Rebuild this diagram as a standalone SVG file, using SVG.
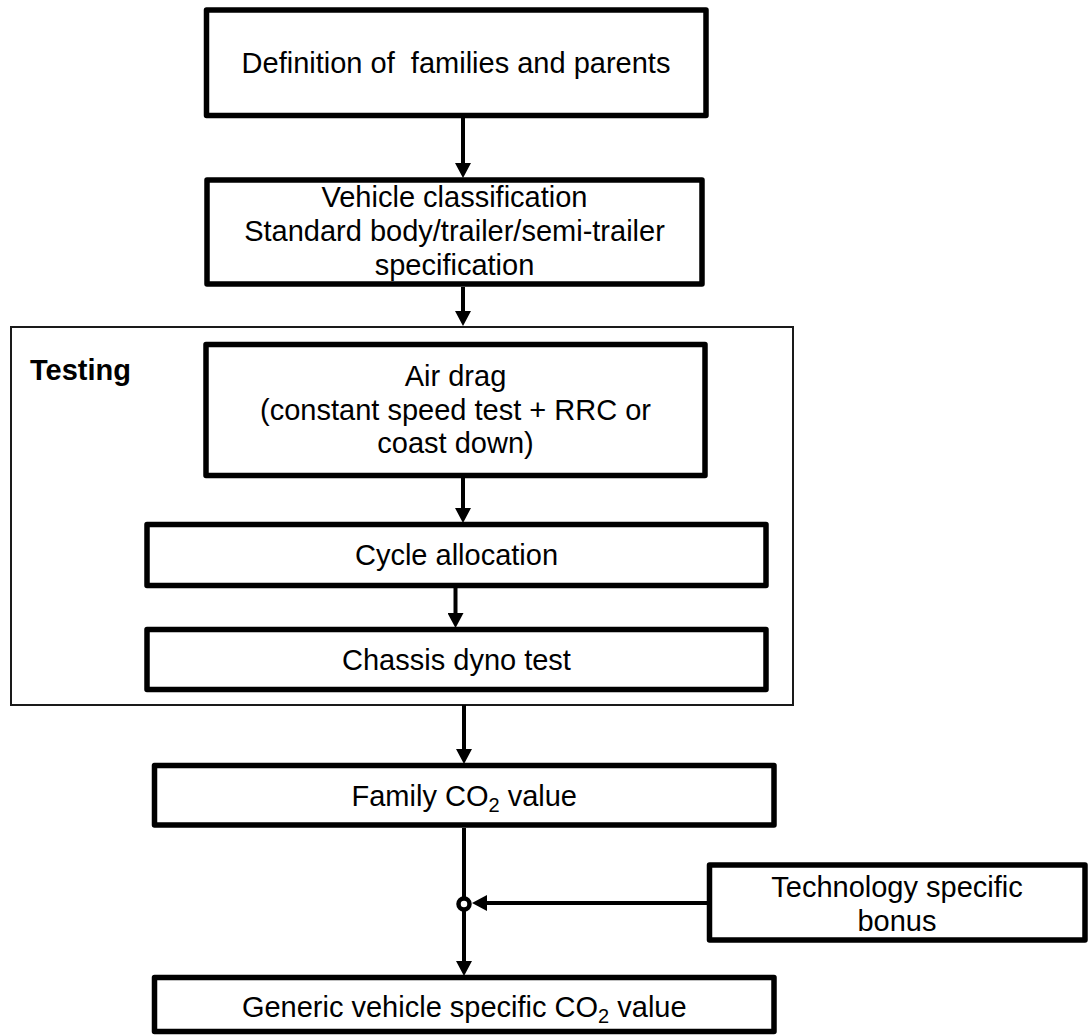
<svg xmlns="http://www.w3.org/2000/svg" width="1088" height="1035" viewBox="0 0 1088 1035">
  <style>
    .box { fill: #ffffff; stroke: #000000; stroke-width: 5.5; stroke-linejoin: round; }
    .frame { fill: none; stroke: #1a1a1a; stroke-width: 2; }
    .lbl { font-family: "Liberation Sans", Arial, sans-serif; font-size: 29px; fill: #000000; text-anchor: middle; white-space: pre; }
    .title { font-family: "Liberation Sans", Arial, sans-serif; font-size: 29px; font-weight: bold; fill: #000000; }
    .sub { font-size: 20px; }
    .wire { fill: none; stroke: #000000; stroke-width: 4; }
  </style>
  <defs>
    <marker id="arrow" markerUnits="userSpaceOnUse" markerWidth="16" markerHeight="16" refX="10" refY="8" orient="auto">
      <path d="M0,0 L15,8 L0,16 Z" fill="#000000"/>
    </marker>
  </defs>

  <!-- Testing frame -->
  <g id="testing">
    <rect class="frame" x="11" y="327" width="782" height="378"/>
    <text class="title" x="30" y="380">Testing</text>
  </g>

  <g id="definition">
    <rect class="box" x="206.5" y="10" width="499.5" height="105.5"/>
    <text class="lbl" x="456" y="73" xml:space="preserve">Definition of  families and parents</text>
  </g>

  <g id="classification">
    <rect class="box" x="207" y="180" width="495" height="104"/>
    <text class="lbl" x="454.5" y="207">Vehicle classification</text>
    <text class="lbl" x="454.5" y="241">Standard body/trailer/semi-trailer</text>
    <text class="lbl" x="454.5" y="275">specification</text>
  </g>

  <g id="airdrag">
    <rect class="box" x="206" y="344.5" width="499" height="131"/>
    <text class="lbl" x="455.5" y="386">Air drag</text>
    <text class="lbl" x="455.5" y="420">(constant speed test + RRC or</text>
    <text class="lbl" x="455.5" y="453">coast down)</text>
  </g>

  <g id="cycle">
    <rect class="box" x="147" y="524.5" width="619" height="61"/>
    <text class="lbl" x="456.5" y="565">Cycle allocation</text>
  </g>

  <g id="chassis">
    <rect class="box" x="147" y="629.5" width="619" height="60"/>
    <text class="lbl" x="456.5" y="670">Chassis dyno test</text>
  </g>

  <g id="family">
    <rect class="box" x="154.5" y="765.5" width="619.5" height="59.5"/>
    <text class="lbl" x="464.25" y="806">Family CO<tspan class="sub" dy="6">2</tspan><tspan dy="-6"> value</tspan></text>
  </g>

  <g id="bonus">
    <rect class="box" x="709.5" y="865" width="375.5" height="75"/>
    <text class="lbl" x="897" y="897">Technology specific</text>
    <text class="lbl" x="897" y="931">bonus</text>
  </g>

  <g id="generic">
    <rect class="box" x="154.5" y="977.5" width="619.5" height="54"/>
    <text class="lbl" x="464.25" y="1017">Generic vehicle specific CO<tspan class="sub" dy="6">2</tspan><tspan dy="-6"> value</tspan></text>
  </g>

  <!-- Connectors -->
  <g id="connectors">
    <path class="wire" d="M463,118 V173" marker-end="url(#arrow)"/>
    <path class="wire" d="M463,287 V321" marker-end="url(#arrow)"/>
    <path class="wire" d="M463,478 V518" marker-end="url(#arrow)"/>
    <path class="wire" d="M455.5,588 V623" marker-end="url(#arrow)"/>
    <path class="wire" d="M464,705 V759" marker-end="url(#arrow)"/>
    <path class="wire" d="M464,828 V897"/>
    <path class="wire" d="M464,911 V971" marker-end="url(#arrow)"/>
    <path class="wire" d="M707,903 H477" marker-end="url(#arrow)"/>
    <circle cx="464" cy="904" r="5.5" fill="#ffffff" stroke="#000000" stroke-width="4.5"/>
  </g>
</svg>
